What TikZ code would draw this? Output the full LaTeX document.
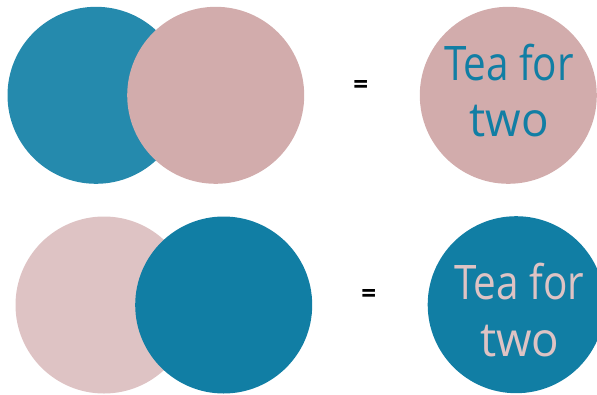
\documentclass[tikz,border=0pt]{standalone}
\usepackage{fontspec}
\setmainfont{Open Sans}
\newfontfamily\eqfont{Open Sans Bold}
\definecolor{tealA}{HTML}{258AAD}
\definecolor{tealB}{HTML}{117EA4}
\definecolor{pinkA}{HTML}{D2ACAC}
\definecolor{pinkB}{HTML}{DEC3C4}
\tikzset{
  disc/.style={circle, inner sep=0pt, minimum size=177pt},
  teatext/.style={anchor=base, inner sep=0pt, font=\fontsize{47.6}{50}\selectfont},
  eqsign/.style={inner sep=0pt, font=\eqfont\fontsize{26}{28}\selectfont}
}
\newcommand{\squeeze}[2]{\scalebox{#1}[1]{#2}}
\begin{document}
\begin{tikzpicture}[x=1pt, y=-1pt]
\useasboundingbox (0,0) rectangle (597,394);
% top row
\node[disc, fill=tealA] (t1) at (96,95.3) {};
\node[disc, fill=pinkA] (t2) at (215.7,95.3) {};
\node[eqsign] (eq1) at (360.7,87.3) {=};
\node[disc, fill=pinkA] (t3) at (508.3,95.3) {};
\node[teatext, text=tealB] (t3a) at (509,80.7) {\squeeze{0.85}{Tea for}};
\node[teatext, text=tealB] (t3b) at (509,136.7) {\squeeze{0.96}{two}};
% bottom row
\node[disc, fill=pinkB] (b1) at (104,305) {};
\node[disc, fill=tealB] (b2) at (223.7,305) {};
\node[eqsign] (eq2) at (368.7,296.3) {=};
\node[disc, fill=tealB] (b3) at (516.2,304.7) {};
\node[teatext, text=pinkB] (b3a) at (519.3,299) {\squeeze{0.85}{Tea for}};
\node[teatext, text=pinkB] (b3b) at (519.8,356) {\squeeze{0.96}{two}};
\end{tikzpicture}
\end{document}
